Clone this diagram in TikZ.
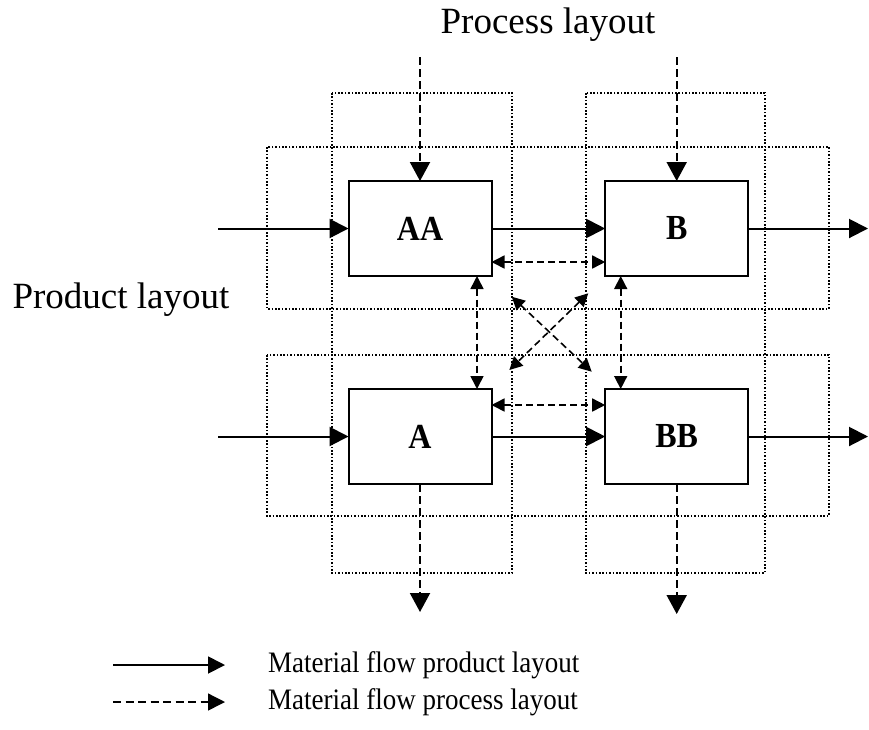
\documentclass[tikz,border=0pt]{standalone}
\usepackage{fontspec}
\setmainfont{Liberation Serif}
\usetikzlibrary{arrows.meta,calc}
\begin{document}
\begin{tikzpicture}[x=1pt,y=-1pt,
  machine/.style={draw,line width=2pt,minimum width=143pt,minimum height=95pt,inner sep=0pt,outer sep=0pt,font=\fontsize{32}{32}\selectfont\bfseries},
  zone/.style={line width=1.6pt,dash pattern=on 1.6pt off 1.8pt},
  prodflow/.style={line width=2pt,-{Triangle[length=19pt,width=19pt]}},
  procflow/.style={line width=2pt,dash pattern=on 8pt off 4pt,-{Triangle[length=19pt,width=20pt]}},
  link/.style={line width=1.6pt,dash pattern=on 7pt off 4pt,{Triangle[length=13pt,width=13pt]}-{Triangle[length=13pt,width=13pt]}},
  legsolid/.style={line width=1.8pt,-{Triangle[length=17pt,width=17pt]}},
  legdash/.style={line width=1.4pt,dash pattern=on 8pt off 4.5pt,-{Triangle[length=17pt,width=17pt]}},
  biglabel/.style={inner sep=0pt,font=\fontsize{37}{37}\selectfont},
  legtext/.style={inner sep=0pt,anchor=west,font=\fontsize{27}{27}\selectfont}
]
\useasboundingbox (0,0) rectangle (869,729);

% zones
\draw[zone] (332,93) rectangle (512,573);
\draw[zone] (586,93) rectangle (765,573);
\draw[zone] (267,147) rectangle (829,309);
\draw[zone] (267,355) rectangle (829,516);

% machines
\node[machine] (AA) at (420,228.5) {\scalebox{1}[1.1]{AA}};
\node[machine] (B) at (676.7,228.5) {\scalebox{1}[1.1]{B}};
\node[machine] (A) at (420,436.5) {\scalebox{1}[1.1]{A}};
\node[machine] (BB) at (676.7,436.5) {\scalebox{1}[1.1]{BB}};

% product flow
\coordinate (inAA) at (218,228.5);
\coordinate (outB) at (868,228.5);
\coordinate (inA) at (218,436.5);
\coordinate (outBB) at (868,436.5);
\draw[prodflow] (inAA) -- (AA.west);
\draw[prodflow] (AA.east) -- (B.west);
\draw[prodflow] (B.east) -- (outB);
\draw[prodflow] (inA) -- (A.west);
\draw[prodflow] (A.east) -- (BB.west);
\draw[prodflow] (BB.east) -- (outBB);

% process flow
\coordinate (topAA) at (420,57);
\coordinate (topB) at (676.7,57);
\coordinate (botA) at (420,612);
\coordinate (botBB) at (676.7,614);
\draw[procflow] (topAA) -- (AA.north);
\draw[procflow] (topB) -- (B.north);
\draw[procflow] (A.south) -- (botA);
\draw[procflow] (BB.south) -- (botBB);

% links
\draw[link] ([yshift=-33.5pt]AA.east) -- ([yshift=-33.5pt]B.west);
\draw[link] ([yshift=31.5pt]A.east) -- ([yshift=31.5pt]BB.west);
\draw[link] ([xshift=57pt]AA.south) -- ([xshift=57pt]A.north);
\draw[link] ([xshift=-56pt]B.south) -- ([xshift=-56pt]BB.north);
\coordinate (x1) at (511.7,296.7);
\coordinate (x2) at (591.7,371.7);
\coordinate (x3) at (588.3,293.3);
\coordinate (x4) at (509.3,370);
\draw[link] (x1) -- (x2);
\draw[link] (x3) -- (x4);

% titles
\node[biglabel] (proc) at (548,25) {Process layout};
\node[biglabel] (prod) at (121,300) {Product layout};

% legend
\coordinate (l1a) at (113,665);
\coordinate (l1b) at (225,665);
\coordinate (l2a) at (113,702);
\coordinate (l2b) at (225,702);
\draw[legsolid] (l1a) -- (l1b);
\draw[legdash] (l2a) -- (l2b);
\node[legtext] (t1) at (268,665) {\scalebox{1}[1.1]{Material flow product layout}};
\node[legtext] (t2) at (268,702) {\scalebox{1}[1.1]{Material flow process layout}};
\end{tikzpicture}
\end{document}
